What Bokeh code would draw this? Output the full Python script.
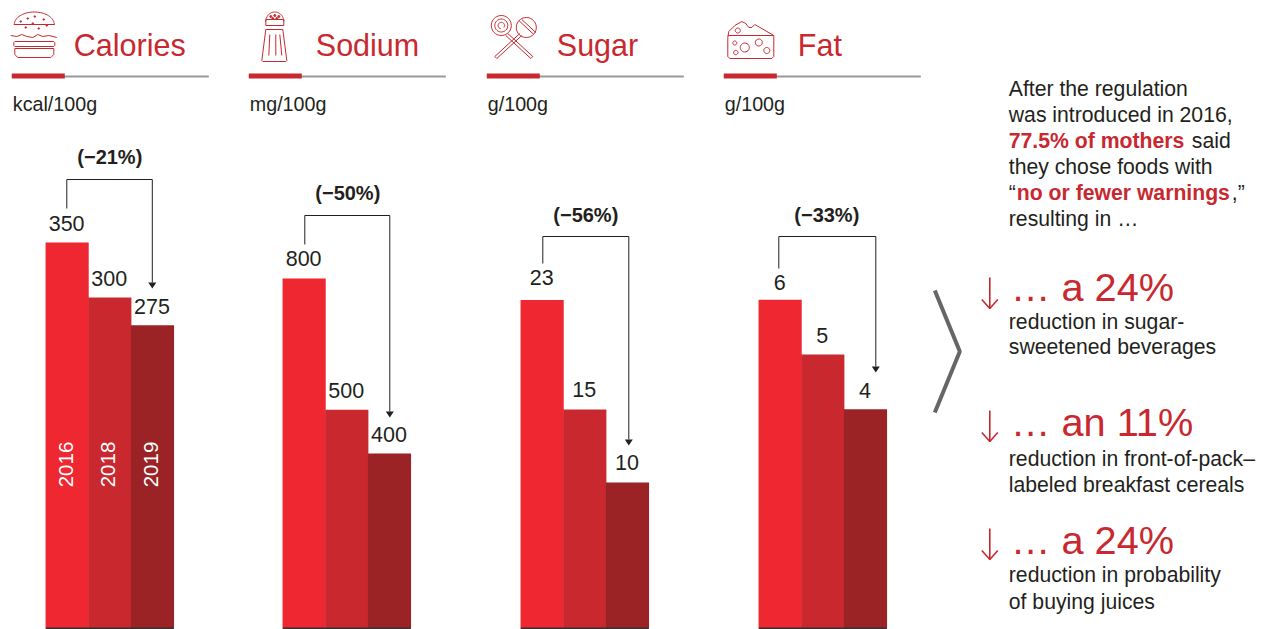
import math
from bokeh.plotting import figure
from bokeh.models import Range1d
from bokeh.core.properties import value
from bokeh.embed import file_html
from bokeh.resources import INLINE

panels = ["Calories", "Sodium", "Sugar", "Fat"]
units = ["kcal/100g", "mg/100g", "g/100g", "g/100g"]
years = ["2016", "2018", "2019"]
calories = [350, 300, 275]
sodium = [800, 500, 400]
sugar = [22.5, 15, 10]
fat = [6, 5, 4]
value_labels = [["350", "300", "275"], ["800", "500", "400"], ["23", "15", "10"], ["6", "5", "4"]]
changes = ["(−21%)", "(−50%)", "(−56%)", "(−33%)"]

series = [calories, sodium, sugar, fat]
px_per_unit = [1.103, 0.4375, 14.6, 54.8]
label_gap = [[10.5, 10.5, 10.5], [12, 11.5, 10.5], [14.5, 12, 12], [9.5, 10.5, 10.5]]
FONT = value("Liberation Sans")
RED = "#c8282f"
DARK = "#231f20"
BAR_COLORS = ["#ee2730", "#c9282e", "#9b2326"]
W, H = 1262, 629
BASE = 628
ADJ = 0.38  # the renderer sets text lower than its nominal baseline, by this share of the size

p = figure(width=W, height=H, x_range=Range1d(0.7, W + 0.7), y_range=Range1d(H, 0),
           output_backend="svg", toolbar_location=None, min_border=0)
p.axis.visible = False
p.grid.visible = False
p.outline_line_color = None
p.background_fill_color = "white"


def T(x, y, s, size=20, color=DARK, bold=False, align="left", angle=0):
    off = 0 if angle else -ADJ * size
    p.text([x], [y], text=[s], text_font=FONT, text_font_size=f"{size}px", text_color=color,
           text_font_style="bold" if bold else "normal", text_align=align,
           text_baseline="alphabetic", angle=angle, y_offset=off)


def L(xs, ys, color=RED, w=1.0):
    p.line(xs, ys, line_color=color, line_width=w)


def ring(cx, cy, rx, ry=None, a0=0, a1=360, n=40):
    ry = rx if ry is None else ry
    ts = [math.radians(a0 + (a1 - a0) * i / n) for i in range(n + 1)]
    return [cx + rx * math.cos(t) for t in ts], [cy + ry * math.sin(t) for t in ts]


# panels: bars through per-panel scales
x0s = [46, 283, 521, 759]
rule_x = [12, 249, 487, 724]
title_x = [74, 316, 557, 798]
BW = 42.67
LS = 21.5
for i, name in enumerate(panels):
    rng = f"r{i}"
    k = px_per_unit[i]
    p.extra_y_ranges[rng] = Range1d((BASE - H) / k, BASE / k)
    xs = [x0s[i] + BW / 2 + BW * j for j in range(3)]
    p.vbar(x=xs, width=BW + 0.5, bottom=0, top=series[i], fill_color=BAR_COLORS, line_color=None, y_range_name=rng)
    p.text([x - 0.5 for x in xs], series[i], text=value_labels[i], text_font=FONT,
           text_font_size=f"{LS}px", text_color=DARK, text_align="center", text_baseline="alphabetic",
           y_offset=[-g - ADJ * LS for g in label_gap[i]], y_range_name=rng)
    L([x0s[i], x0s[i] + 128], [628, 628], color="#333333", w=2)
    # header
    T(title_x[i], 56, name, size=30.5, color=RED)
    L([rule_x[i], rule_x[i] + 197], [76, 76], color="#999999", w=2)
    L([rule_x[i], rule_x[i] + 53], [75.5, 75.5], color=RED, w=5)
    T(rule_x[i] + 1, 111, units[i], size=19.7)

for j, y in enumerate(years):
    T(x0s[0] + BW / 2 + BW * j - 1.5, 464, y, size=20.5, color="white", align="center", angle=math.pi / 2)

# brackets
brackets = [(67, 208, 179, 152.5, 282), (305, 244, 215, 390, 411), (543, 263, 236, 629, 439), (779, 268, 236, 876, 366)]
label_pos = [(110, 164), (348, 200), (586, 222), (827, 222)]
for (xa, ya, yt, xb, yb), (lx, ly), c in zip(brackets, label_pos, changes):
    L([xa, xa, xb, xb], [ya, yt, yt, yb], color=DARK, w=1)
    p.patch([xb - 4, xb + 4, xb], [yb, yb, yb + 6], fill_color=DARK, line_color=None)
    T(lx, ly, c, size=20, bold=True, align="center")

# burger icon
bx, by = ring(34.5, 24, 20, 12.5, 180, 360)
L(bx, by, w=1)
L([14, 55], [24, 24], w=1)
L([11, 17, 22, 27, 33, 38, 43, 49, 57], [35, 36, 34, 36, 37, 34, 36, 35, 37], w=1)
L([15, 54, 55, 55, 54, 15, 14, 14, 15], [41, 41, 42, 45, 46, 46, 45, 42, 41], w=1)
L([15, 54, 54, 51, 18, 15, 15], [48, 48, 54, 57, 57, 54, 48], w=1)
p.scatter([21, 28, 35, 44, 26, 39, 47, 33], [21, 18, 16, 19, 27, 28, 25, 23], size=1.5, color=RED)

# salt shaker icon
sx, sy = ring(275, 21, 9, 9.5, 180, 360)
L(sx, sy, w=1)
L([266, 284, 284, 266, 266], [19, 19, 25, 25, 19], w=1)
L([266, 283, 287, 286, 263, 262, 266], [29, 29, 60, 61, 61, 60, 29], w=1)
L([270, 269], [34, 55], w=1)
L([276, 276], [34, 55], w=1)
L([280, 282], [34, 55], w=1)
p.scatter([271, 275, 279, 273, 277], [16, 15, 16, 18, 18], size=2, color=RED)

# lollipops icon
lx, ly = ring(501.5, 25, 10)
L(lx, ly, w=1)
lx, ly = ring(501.5, 25, 6.5, a0=30, a1=400)
L(lx, ly, w=1)
lx, ly = ring(501.5, 25, 3.2, a0=100, a1=400)
L(lx, ly, w=1)
lx, ly = ring(526.5, 27, 10)
L(lx, ly, w=1)
L([519, 534], [20, 34], w=1)
L([522, 536], [19, 32], w=1)
L([508, 533, 531, 506], [33, 56, 58, 35], w=1)
L([520, 495, 497, 522], [33, 56, 58, 35], w=1)

# cheese icon
L([728, 728, 730, 772, 774, 774, 728], [37, 56, 58, 58, 56, 35, 35], w=1)
L([728, 729, 735, 742, 746, 749, 752, 755, 774], [37, 31, 25, 21, 23, 27, 27, 24, 35], w=1)
for cx, cy, r in [(738, 30, 2.5), (735, 42.5, 2), (745, 47, 4.5), (759, 42, 3.5), (767, 50, 3), (736, 52, 2.2)]:
    hx, hy = ring(cx, cy, r, n=24)
    L(hx, hy, w=1)

# chevron
L([935, 960, 935], [290, 351, 412], color="#666666", w=4)

# right text
TS = 21.2
intro = ["After the regulation", "was introduced in 2016,", None, "they chose foods with", None, "resulting in …"]
intro_y = [96, 122, 148.5, 174, 200, 226]
for s, y in zip(intro, intro_y):
    if s:
        T(1009, y, s, size=TS)
T(1009, 148.5, "77.5% of mothers", size=TS, color=RED, bold=True)
T(1192, 148.5, "said", size=TS)
T(1009, 200, "“", size=TS)
T(1017, 200, "no or fewer warnings", size=TS, color=RED, bold=True)
T(1232, 200, ",”", size=TS)

big = ["… a 24%", "… an 11%", "… a 24%"]
big_y = [302, 437, 555]
arrow_y = [277, 410, 528]
small = [["reduction in sugar-", "sweetened beverages"],
         ["reduction in front-of-pack–", "labeled breakfast cereals"],
         ["reduction in probability", "of buying juices"]]
small_y = [[329, 354], [466, 492], [582, 609]]
for b, by_, ay, lines, ys in zip(big, big_y, arrow_y, small, small_y):
    T(1011, by_, b, size=39.7, color=RED)
    L([990, 990], [ay, ay + 31], w=1.6)
    L([982, 990, 998], [ay + 22, ay + 31, ay + 22], w=1.6)
    for s, y in zip(lines, ys):
        T(1009, y, s, size=TS)

open("out.html", "w").write(file_html(p, INLINE))
